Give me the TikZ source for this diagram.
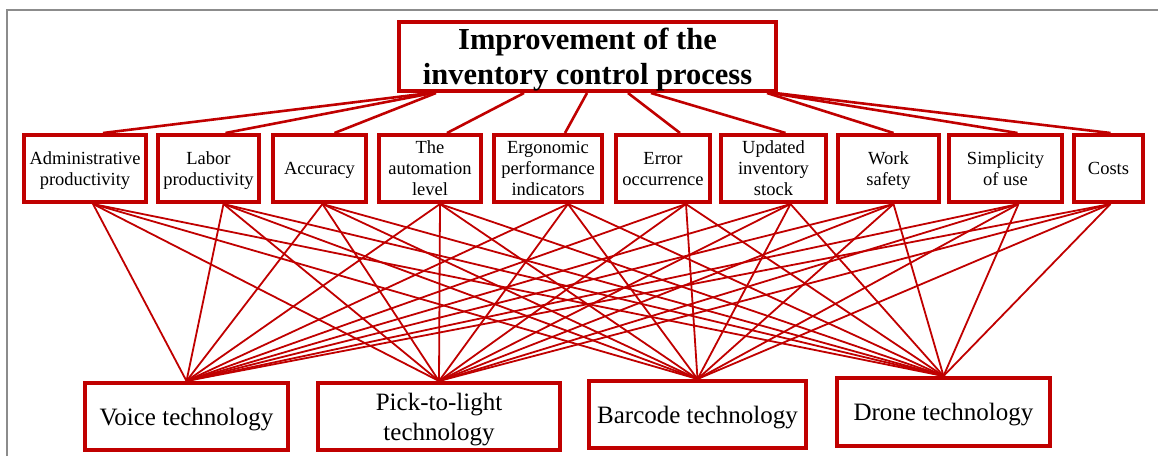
\documentclass[tikz,border=0pt]{standalone}
\usepackage{fontspec}
\setmainfont{Liberation Serif}
\usetikzlibrary{calc}
\definecolor{boxred}{RGB}{192,0,0}
\definecolor{framegray}{RGB}{140,140,140}
\begin{document}
\begin{tikzpicture}[x=1pt,y=-1pt,
  box/.style={draw=boxred, line width=4pt, fill=white, rectangle, inner sep=0pt, align=center},
  critbox/.style={box, minimum height=67pt, text depth=0pt, font=\fontsize{18.5}{21}\selectfont},
  techbox/.style={box, text depth=-2pt, font=\fontsize{25}{30}\selectfont},
  toplink/.style={draw=boxred, line width=2.6pt},
  link/.style={draw=boxred, line width=1.8pt}]
\useasboundingbox (0,0) rectangle (1158,456);

% page frame
\draw[framegray, line width=1.6pt] (7,456) -- (7,10) -- (1158,10);

% goal
\node[box, minimum width=377pt, minimum height=69pt, text depth=-4pt,
      font=\fontsize{30.5}{35}\selectfont\bfseries] (top) at (587.5,56.5)
  {Improvement of the\\inventory control process};

% criteria
\node[critbox, minimum width=122pt] (c1)  at (85,168.5)   {Administrative\\productivity};
\node[critbox, minimum width=101pt] (c2)  at (208.5,168.5) {Labor\\productivity};
\node[critbox, minimum width=93pt]  (c3)  at (319.5,168.5) {Accuracy};
\node[critbox, minimum width=102pt] (c4)  at (430,168.5)   {The\\automation\\level};
\node[critbox, minimum width=108pt] (c5)  at (548,168.5)   {Ergonomic\\performance\\indicators};
\node[critbox, minimum width=94pt]  (c6)  at (663,168.5)   {Error\\occurrence};
\node[critbox, minimum width=105pt] (c7)  at (773.5,168.5) {Updated\\inventory\\stock};
\node[critbox, minimum width=101pt] (c8)  at (888.5,168.5) {Work\\safety};
\node[critbox, minimum width=113pt] (c9)  at (1005.5,168.5) {Simplicity\\of use};
\node[critbox, minimum width=69pt]  (c10) at (1108.5,168.5) {Costs};

% alternatives
\node[techbox, minimum width=203pt, minimum height=67pt] (t1) at (186.5,416.5) {Voice technology};
\node[techbox, minimum width=242pt, minimum height=67pt] (t2) at (439,416.5)   {Pick-to-light\\technology};
\node[techbox, minimum width=217pt, minimum height=67pt] (t3) at (697.5,414.5) {Barcode technology};
\node[techbox, minimum width=213pt, minimum height=68pt] (t4) at (943.5,412)   {Drone technology};

% goal -> criteria
\foreach \c/\sx/\ex in {c1/33/18, c2/36/17, c3/39/15, c4/127/17, c5/190/17,
                        c6/231/17, c7/254/12, c8/370/5, c9/374/12, c10/378/2}
  \draw[toplink] ($(top.south west)+(\sx,0)$) -- ($(\c.north)+(\ex,0)$);

% criteria -> alternatives
\foreach \c/\dx in {c1/8, c2/15, c3/3, c4/10, c5/20, c6/23, c7/17, c8/5, c9/13, c10/2}
  \foreach \t in {t1,t2,t3,t4}
    \draw[link] ($(\c.south)+(\dx,0)$) -- (\t.north);
\end{tikzpicture}
\end{document}
